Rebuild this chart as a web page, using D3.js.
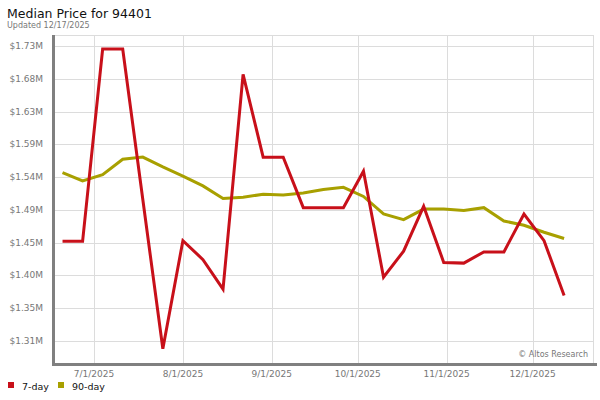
<!DOCTYPE html>
<html><head><meta charset="utf-8">
<script src="https://cdn.jsdelivr.net/npm/d3@7"></script>
<style>body{margin:0;background:#fff;} svg{display:block;font-family:"DejaVu Sans",sans-serif;}</style>
</head><body>
<svg id="c" width="600" height="400"></svg>
<script>
const weekDates = ["2025-06-20","2025-06-27","2025-07-04","2025-07-11","2025-07-18","2025-07-25","2025-08-01","2025-08-08","2025-08-15","2025-08-22","2025-08-29","2025-09-05","2025-09-12","2025-09-19","2025-09-26","2025-10-03","2025-10-10","2025-10-17","2025-10-24","2025-10-31","2025-11-07","2025-11-14","2025-11-21","2025-11-28","2025-12-05","2025-12-12"];
const sevenDay = [1450000,1450000,1724000,1724000,1510000,1297000,1451000,1424000,1382000,1688000,1570000,1570000,1498000,1498000,1498000,1550000,1399000,1436000,1500000,1420000,1419000,1435000,1435000,1489000,1451000,1373000];
const ninetyDay = [1548000,1536000,1545000,1567000,1570000,1556000,1543000,1529000,1511000,1513000,1517000,1516000,1519000,1524000,1527000,1514000,1489000,1481000,1496000,1496000,1494000,1498000,1479000,1473000,1463000,1454000];
const yTicks = [1308000,1354700,1401400,1448100,1494800,1541500,1588200,1634900,1681600,1728300];
const xTicks = ["2025-07-01","2025-08-01","2025-09-01","2025-10-01","2025-11-01","2025-12-01"];
const seriesNames = ["7-day","90-day"];
const colors = ["#c8101a","#a8a000"];

const svg = d3.select("#c");
const L=55,R=593,T=35,B=363;
const parse = d3.utcParse("%Y-%m-%d");
const x = d3.scaleUtc().domain([new Date(Date.UTC(2025,5,17,9)), new Date(Date.UTC(2025,11,22,2))]).range([L,R]);
const y = d3.scaleLinear().domain([1276700,1744000]).range([B,T]);

// gridlines
const g = svg.append("g");
g.selectAll(".hg").data(yTicks).join("line")
  .attr("x1",L).attr("x2",R).attr("y1",d=>Math.round(y(d))+0.5).attr("y2",d=>Math.round(y(d))+0.5)
  .attr("stroke","#dcdcdc").attr("stroke-width",1);
g.selectAll(".vg").data(xTicks).join("line")
  .attr("y1",T).attr("y2",B).attr("x1",d=>Math.round(x(parse(d)))+0.5).attr("x2",d=>Math.round(x(parse(d)))+0.5)
  .attr("stroke","#dcdcdc").attr("stroke-width",1);
// border top/right
svg.append("line").attr("x1",L).attr("x2",R+0.5).attr("y1",T+0.5).attr("y2",T+0.5).attr("stroke","#dcdcdc");
svg.append("line").attr("x1",R+0.5).attr("x2",R+0.5).attr("y1",T).attr("y2",B).attr("stroke","#dcdcdc");

// axes bars
svg.append("rect").attr("x",52).attr("y",T).attr("width",3).attr("height",B-T+3).attr("fill","#808080");
svg.append("rect").attr("x",52).attr("y",B).attr("width",545).attr("height",3).attr("fill","#808080");

// y tick labels
svg.append("g").selectAll("text").data(yTicks).join("text")
  .attr("x",43).attr("y",d=>y(d)+3).attr("text-anchor","end")
  .attr("font-size","9px").attr("fill","#777")
  .text(d=>"$"+(d/1e6).toFixed(2)+"M");
// x tick labels
svg.append("g").selectAll("text").data(xTicks).join("text")
  .attr("x",d=>x(parse(d))).attr("y",377).attr("text-anchor","middle")
  .attr("font-size","9px").attr("fill","#777")
  .text(d=>{const t=parse(d);return (t.getUTCMonth()+1)+"/"+t.getUTCDate()+"/"+t.getUTCFullYear();});

// lines
const line = d3.line().x((d,i)=>x(parse(weekDates[i]))).y(d=>y(d));
[ninetyDay, sevenDay].forEach((s,k)=>{
  svg.append("path").datum(s).attr("d",line).attr("fill","none")
    .attr("stroke", k===0?colors[1]:colors[0]).attr("stroke-width",3).attr("stroke-linejoin","miter").attr("stroke-linecap","butt");
});

// watermark
svg.append("text").attr("x",588).attr("y",357).attr("text-anchor","end").attr("font-size","8px").attr("fill","#777").text("© Altos Research");

// title
svg.append("text").attr("x",7).attr("y",18).attr("font-size","12.5px").attr("fill","#111").text("Median Price for 94401");
svg.append("text").attr("x",7).attr("y",28).attr("font-size","8px").attr("fill","#777").text("Updated 12/17/2025");

// legend
const lg = svg.append("g");
const lx=[8,58];
seriesNames.forEach((n,i)=>{
  lg.append("rect").attr("x",lx[i]).attr("y",382).attr("width",6).attr("height",6).attr("fill",colors[i]);
  lg.append("text").attr("x",lx[i]+14).attr("y",390).attr("font-size","9.5px").attr("fill","#111").text(n);
});
</script>
</body></html>
